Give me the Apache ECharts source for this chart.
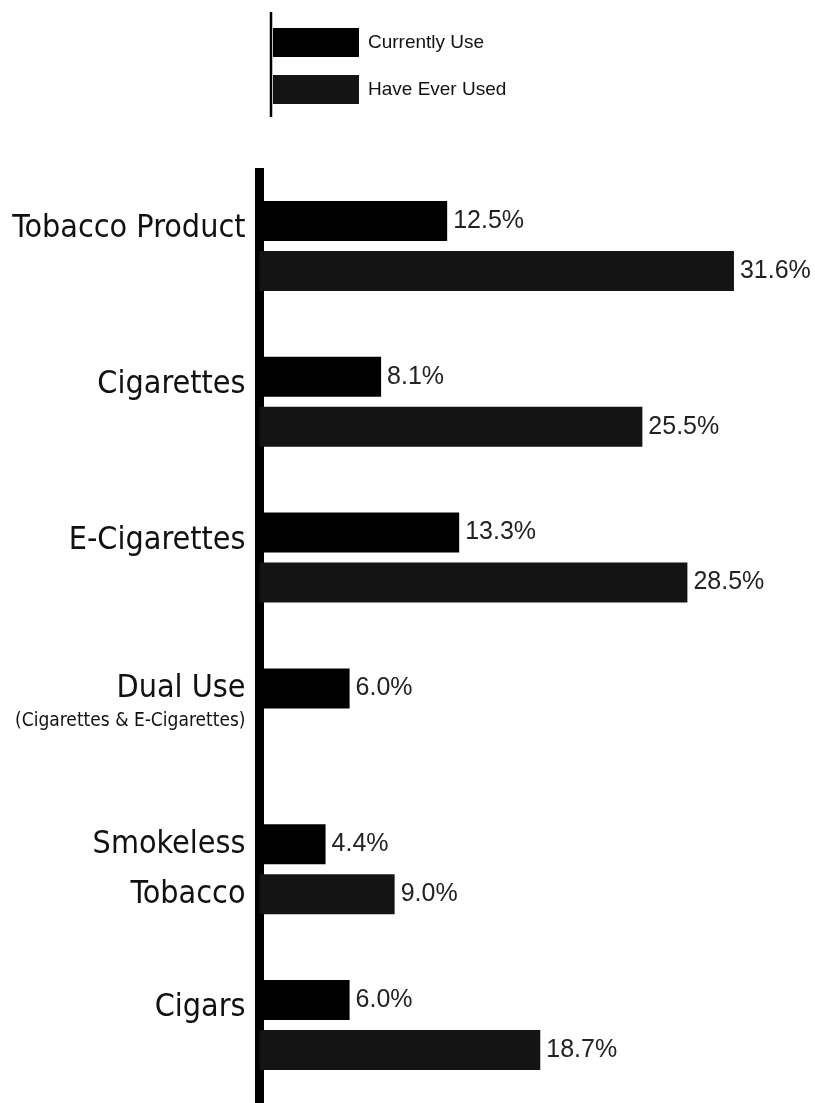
<!DOCTYPE html>
<html>
<head>
<meta charset="utf-8">
<script src="https://cdn.jsdelivr.net/npm/echarts@6/dist/echarts.min.js"></script>
<style>
html,body{margin:0;padding:0;background:#fff;}
#tobacco_use_0{width:815px;height:1103px;}
</style>
</head>
<body>
<div id="tobacco_use_0"></div>
<script>
// 分类, 副标题
var categories = ['Tobacco Product', 'Cigarettes', 'E-Cigarettes', 'Dual Use', 'Smokeless\nTobacco', 'Cigars'];
var subLabels = ['', '', '', '(Cigarettes & E-Cigarettes)', '', ''];
// 数值 (%)
var currentlyUse = [12.5, 8.1, 13.3, 6.0, 4.4, 6.0];
var haveEverUsed = [31.6, 25.5, 28.5, null, 9.0, 18.7];
var seriesNames = ['Currently Use', 'Have Ever Used'];

var labelFont = "'Liberation Sans Narrow', 'DejaVu Sans Condensed', 'Roboto', sans-serif";
var valueFont = "'Liberation Sans', Arial, sans-serif";

/**
 * 分类标签格式
 */
function categoryFormatter(value, idx){
	if(value.indexOf('\n') >= 0){
		var parts = value.split('\n');
		return '{m|' + parts[0] + '}\n{m|' + parts[1] + '}';
	}
	if(subLabels[idx]){
		return '{t|' + value + '}\n{s|' + subLabels[idx] + '}\n{g| }';
	}
	return '{t|' + value + '}\n{g| }';
}

function valueLabel(p){
	return p.value.toFixed(1) + '%';
}

function loadChart(){
	var chart = echarts.init(document.getElementById('tobacco_use_0'));
	var option = {
		animation: false,
		backgroundColor: '#fff',
		legend: {
			data: seriesNames,
			orient: 'vertical',
			left: 273,
			top: 28,
			padding: 0,
			icon: 'rect',
			itemWidth: 86,
			itemHeight: 29,
			itemGap: 18,
			textStyle: {
				fontFamily: valueFont,
				fontSize: 19,
				color: '#111',
				padding: [0, 0, 0, 4]
			}
		},
		graphic: [
			{
				type: 'line',
				shape: {x1: 271, y1: 12, x2: 271, y2: 117},
				style: {stroke: '#000', lineWidth: 2.5}
			}
		],
		grid: {
			left: 259.5,
			right: 30,
			top: 168,
			bottom: 0,
			containLabel: false,
			outerBoundsMode: 'none'
		},
		xAxis: {
			type: 'value',
			min: 0,
			max: 35,
			show: false
		},
		yAxis: {
			type: 'category',
			inverse: true,
			data: categories,
			axisTick: {show: false},
			axisLine: {show: true, lineStyle: {color: '#000', width: 9, cap: 'butt'}},
			axisLabel: {
				margin: 14,
				color: '#111',
				fontFamily: labelFont,
				formatter: categoryFormatter,
				rich: {
					t: {fontSize: 32, lineHeight: 50, fontFamily: labelFont, color: '#111', align: 'right'},
					m: {fontSize: 32, lineHeight: 50, fontFamily: labelFont, color: '#111', align: 'right'},
					s: {fontSize: 19, lineHeight: 16, fontFamily: labelFont, color: '#111', align: 'right'},
					g: {fontSize: 10, lineHeight: 34, align: 'right'}
				}
			}
		},
		series: [
			{
				name: seriesNames[0],
				type: 'bar',
				data: currentlyUse,
				barWidth: 40,
				barGap: '25%',
				itemStyle: {color: '#000'},
				label: {
					show: true,
					position: 'right',
					distance: 6,
					formatter: valueLabel,
					fontFamily: valueFont,
					fontSize: 25,
					color: '#222'
				}
			},
			{
				name: seriesNames[1],
				type: 'bar',
				data: haveEverUsed,
				barWidth: 40,
				itemStyle: {color: '#141414'},
				label: {
					show: true,
					position: 'right',
					distance: 6,
					formatter: valueLabel,
					fontFamily: valueFont,
					fontSize: 25,
					color: '#222'
				}
			}
		]
	};
	chart.setOption(option);
}

loadChart();
</script>
</body>
</html>
